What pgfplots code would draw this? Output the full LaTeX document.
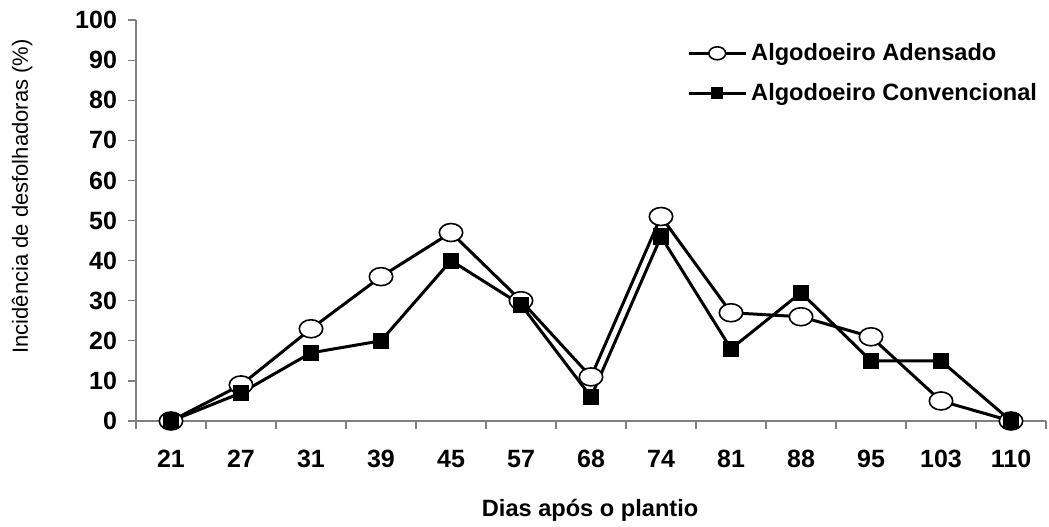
\documentclass[border=0pt]{standalone}
\usepackage{pgfplots}
\pgfplotsset{compat=1.18}
\usepackage{fontspec}
\setmainfont{Liberation Sans}

\pgfplotstableread{
x  aden conv
0  0    0
1  9    7
2  23   17
3  36   20
4  47   40
5  30   29
6  11   6
7  51   46
8  27   18
9  26   32
10 21   15
11 5    15
12 0    0
}\dados

\begin{document}
\begin{tikzpicture}
\useasboundingbox (-68pt,-52.5pt) rectangle (456.5pt,210.5pt);
\begin{axis}[
  width=455pt, height=200.5pt, scale only axis,
  xmin=-0.5, xmax=12.5, ymin=0, ymax=100,
  axis x line*=bottom, axis y line*=left,
  axis line style={gray, line width=0.6pt, -},
  xtick={0,...,12},
  xticklabels={21,27,31,39,45,57,68,74,81,88,95,103,110},
  minor xtick={-0.5,0.5,...,12.5},
  major x tick style={draw=none},
  minor x tick style={gray, line width=0.6pt},
  ytick={0,10,...,100},
  y tick style={gray, line width=0.6pt},
  tick align=outside, major tick length=4pt, minor tick length=4pt,
  ticklabel style={font=\bfseries\fontsize{12.5}{13}\selectfont},
  /pgf/number format/assume math mode=true,
  yticklabel style={xshift=-2pt},
  xticklabel style={yshift=-7pt},
  xlabel={Dias após o plantio},
  ylabel={Incidência de desfolhadoras (\%)},
  xlabel style={font=\bfseries\fontsize{11.8}{12}\selectfont, at={(axis description cs:0.499,-0.222)}, anchor=center},
  ylabel style={font=\fontsize{11}{12}\selectfont, at={(axis description cs:-0.125,0.56)}, anchor=center, rotate=0},
  legend style={draw=none, fill=none, at={(0.995,0.953)}, anchor=north east,
    font=\bfseries\fontsize{11.8}{12}\selectfont, row sep=6pt, inner sep=0pt},
  legend cell align=left,
  legend image code/.code={\draw[mark repeat=2,mark phase=2, every mark/.append style={scale=0.72}] plot coordinates {(0cm,0cm) (0.5cm,0cm) (1cm,0cm)};},
  clip=false,
]
\addplot[black, line width=1.5pt, mark=*, mark size=4.5pt,
  mark options={fill=white, line width=0.8pt, xscale=1.3}] table[x=x, y=aden] {\dados};
\addlegendentry{Algodoeiro Adensado}
\addplot[black, line width=1.5pt, mark=square*, mark size=3.8pt,
  mark options={fill=black, line width=0.5pt}] table[x=x, y=conv] {\dados};
\addlegendentry{Algodoeiro Convencional}
\end{axis}
\end{tikzpicture}
\end{document}
